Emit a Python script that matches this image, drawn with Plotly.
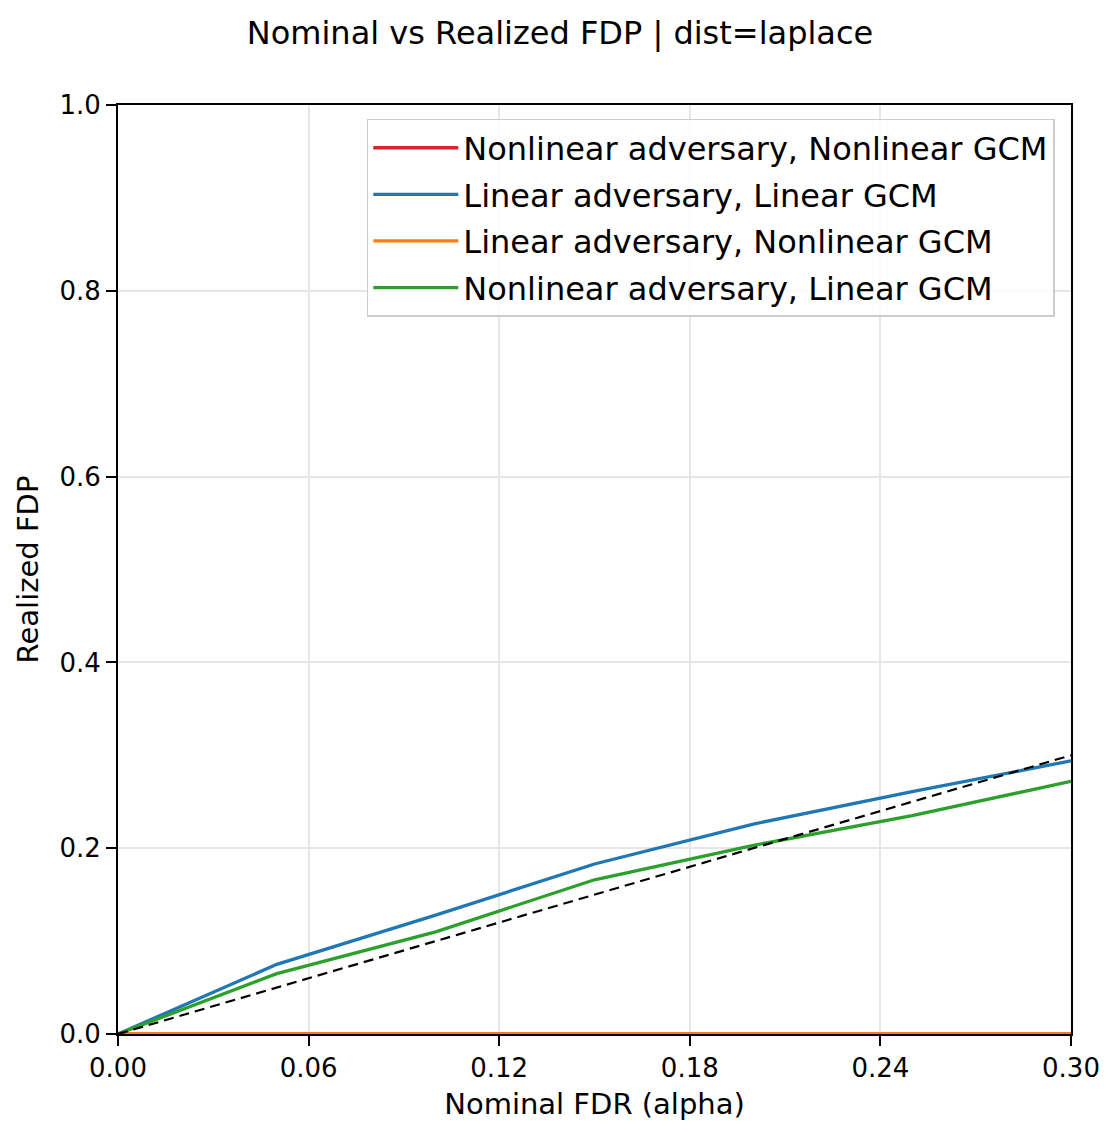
import plotly.graph_objects as go

alpha = [0.0, 0.05, 0.10, 0.15, 0.20, 0.25, 0.30]
nonlin_adv_nonlin_gcm = [0.0, 0.0, 0.0, 0.0, 0.0, 0.0, 0.0]
lin_adv_lin_gcm = [0.0, 0.075, 0.128, 0.183, 0.226, 0.261, 0.294]
lin_adv_nonlin_gcm = [0.0, 0.0, 0.0, 0.0, 0.0, 0.0, 0.0]
nonlin_adv_lin_gcm = [0.0, 0.065, 0.110, 0.166, 0.203, 0.235, 0.272]
diag_x = [0.0, 0.30]
diag_y = [0.0, 0.30]

series = [
    ("Nonlinear adversary, Nonlinear GCM", nonlin_adv_nonlin_gcm, "#d62728"),
    ("Linear adversary, Linear GCM", lin_adv_lin_gcm, "#1f77b4"),
    ("Linear adversary, Nonlinear GCM", lin_adv_nonlin_gcm, "#ff7f0e"),
    ("Nonlinear adversary, Linear GCM", nonlin_adv_lin_gcm, "#2ca02c"),
]

FONT = "DejaVu Sans"
W, H = 1112, 1128
fig = go.Figure()
for i, (name, ys, col) in enumerate(series):
    fig.add_trace(go.Scatter(x=alpha, y=ys, mode="lines", name=name,
                             line=dict(color=col, width=3.3),
                             legendgroup=f"g{i}"))
fig.add_trace(go.Scatter(x=diag_x, y=diag_y, mode="lines", showlegend=False,
                         line=dict(color="black", width=2.2, dash="10px,6px")))

axis_common = dict(
    showline=True, mirror=True, linecolor="black", linewidth=1.8,
    ticks="outside", ticklen=10, tickwidth=1.8, tickcolor="black",
    showgrid=True, gridcolor="#e6e6e6", gridwidth=1.5,
    zeroline=False,
    tickfont=dict(family=FONT, size=26, color="black"),
)

fig.update_layout(
    width=W, height=H,
    margin=dict(l=110, r=49, t=97, b=102),
    paper_bgcolor="white", plot_bgcolor="white",
    font=dict(family=FONT, color="black"),
    title=dict(text="Nominal vs Realized FDP | dist=laplace",
               x=552 / W, xref="container", xanchor="center",
               y=1 - 25 / H, yref="container", yanchor="middle",
               font=dict(family=FONT, size=32, color="black")),
    xaxis=dict(range=[0, 0.30], tickvals=[0, 0.06, 0.12, 0.18, 0.24, 0.30],
               ticktext=["0.00", "0.06", "0.12", "0.18", "0.24", "0.30"],
               title=dict(text="Nominal FDR (alpha)", standoff=12,
                          font=dict(family=FONT, size=29, color="black")),
               **axis_common),
    yaxis=dict(range=[0, 1.0], tickvals=[0, 0.2, 0.4, 0.6, 0.8, 1.0],
               ticktext=["0.0", "0.2", "0.4", "0.6", "0.8", "1.0"],
               title=dict(text="Realized FDP", standoff=12,
                          font=dict(family=FONT, size=29, color="black")),
               **axis_common),
    legend=dict(x=0.983, y=0.985, xanchor="right", yanchor="top",
                bgcolor="rgba(255,255,255,0.85)", bordercolor="#cccccc",
                borderwidth=1.5, font=dict(family=FONT, size=32, color="black"),
                tracegroupgap=2, itemwidth=85),
)

fig.write_html("out.html")
